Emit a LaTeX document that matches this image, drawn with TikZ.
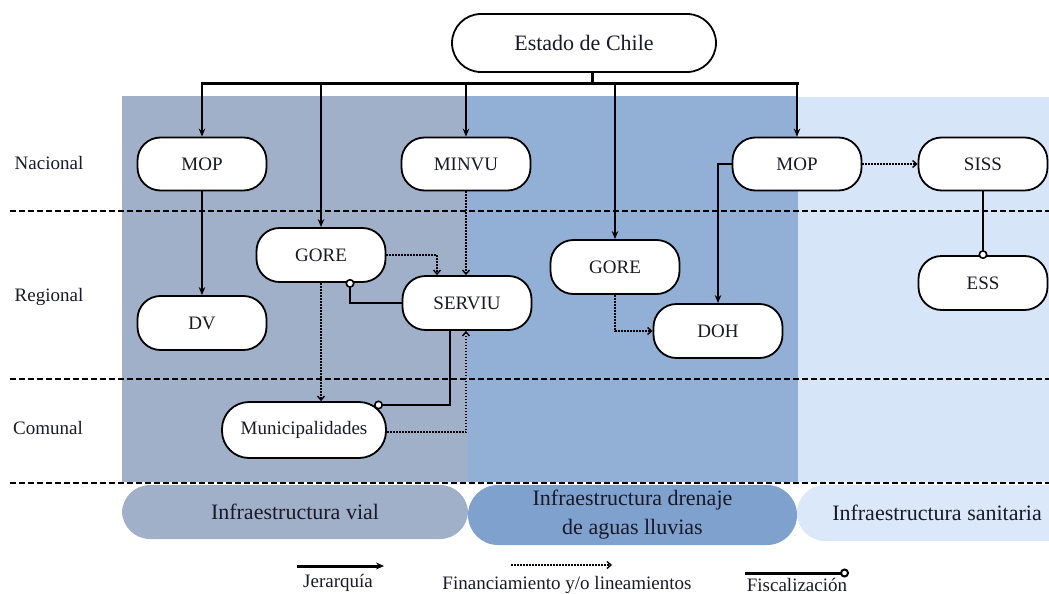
\documentclass[tikz,border=0pt]{standalone}
\usepackage{fontspec}
\setmainfont{Liberation Serif}
\newfontfamily\tnr{Liberation Serif}
\usetikzlibrary{arrows.meta}
\definecolor{vialc}{RGB}{161,176,201}
\definecolor{drenc}{RGB}{146,175,213}
\definecolor{sanc}{RGB}{214,230,248}
\definecolor{drenbox}{RGB}{127,161,206}
\definecolor{sanbox}{RGB}{218,232,249}
\definecolor{txt}{RGB}{25,25,40}
\begin{document}
\begin{tikzpicture}[x=1pt,y=-1pt,
 org/.style={draw=black, line width=1.8pt, fill=white, rounded corners=23pt,
   minimum width=129pt, minimum height=53pt, inner sep=0pt,
   font=\tnr\fontsize{19}{22}\selectfont, text=txt},
 hier/.style={line width=1.8pt, -{Stealth[length=8pt,width=6.5pt]}},
 fin/.style={line width=1.7pt, dash pattern=on 1.6pt off 1.4pt, -{Straight Barb[length=4pt,width=7pt,line width=1.4pt]}},
 fisc/.style={line width=1.8pt, -{Circle[open,fill=white,length=9pt,width=9pt,line width=1.6pt]}},
 lvl/.style={font=\tnr\fontsize{19}{22}\selectfont, text=txt},
 cat/.style={rounded corners=28pt, inner sep=0pt, align=center,
   font=\tnr\fontsize{22}{29}\selectfont, text=txt},
 sep/.style={line width=1.8pt, dash pattern=on 6pt off 3pt},
 leg/.style={font=\tnr\fontsize{19}{22}\selectfont, text=txt}
]
\useasboundingbox (0,0) rectangle (1049,594);
\clip (0,0) rectangle (1049,594);

% background panels
\fill[vialc] (122,96) rectangle (468,482);
\fill[drenc] (468,96) rectangle (798,482);
\fill[sanc] (798,97) rectangle (1049,482);

% category boxes
\node[cat, fill=vialc, minimum width=346pt, minimum height=54pt] (vial) at (295,512) {Infraestructura vial};
\node[cat, fill=drenbox, minimum width=329pt, minimum height=60pt, rounded corners=30pt] (dren) at (632.5,515) {Infraestructura drenaje\\de aguas lluvias};
\node[cat, fill=sanbox, minimum width=280pt, minimum height=56pt] (san) at (937,513) {Infraestructura sanitaria};

% level separators
\coordinate (s1a) at (10,211); \coordinate (s1b) at (1049,211);
\coordinate (s2a) at (10,379); \coordinate (s2b) at (1049,379);
\coordinate (s3a) at (10,483); \coordinate (s3b) at (1049,483);
\draw[sep] (s1a) -- (s1b);
\draw[sep] (s2a) -- (s2b);
\draw[sep] (s3a) -- (s3b);

% level labels
\node[lvl] (nac) at (49,163) {Nacional};
\node[lvl] (reg) at (49,297) {Regional};
\node[lvl] (com) at (48,428) {Comunal};

% nodes
\node[org, minimum width=264pt, minimum height=58pt, rounded corners=29pt,
      font=\tnr\fontsize{22}{26}\selectfont] (estado) at (584,43) {Estado de Chile};
\node[org] (mop1) at (202,164) {MOP};
\node[org] (minvu) at (466,164) {MINVU};
\node[org] (mop2) at (797,164) {MOP};
\node[org] (siss) at (983,164) {SISS};
\node[org, minimum height=54pt] (gore1) at (321,255) {GORE};
\node[org, minimum height=54pt] (serviu) at (467,303) {SERVIU};
\node[org, minimum height=54pt] (dv) at (202,323) {DV};
\node[org, minimum height=54pt] (gore2) at (615,267) {GORE};
\node[org, minimum height=54pt] (doh) at (718,331) {DOH};
\node[org, minimum height=54pt] (ess) at (983,283) {ESS};
\node[org, minimum width=164pt, minimum height=56pt, rounded corners=27pt] (muni) at (304,430) {Municipalidades};

% hierarchy bus
\coordinate (bj) at (592,83);
\coordinate (bl) at (202,83);
\coordinate (br) at (797,83);
\draw[line width=3pt] (estado.south -| bj) -- (bj);
\draw[line width=3pt] ([xshift=-1.5pt]bl) -- ([xshift=1.5pt]br);
\draw[hier] (mop1.north |- bl) -- (mop1.north);
\draw[hier] (gore1.north |- bl) -- (gore1.north);
\draw[hier] (minvu.north |- bl) -- (minvu.north);
\draw[hier] (gore2.north |- bl) -- (gore2.north);
\draw[hier] (mop2.north |- br) -- (mop2.north);

% relations
\draw[hier] (mop1) -- (dv);
\draw[fin] (minvu.south) -- (minvu.south |- serviu.north);
\draw[fin] (gore1.east) -| ([xshift=-30pt]serviu.north);
\draw[fin] (gore1.south) -- (gore1.south |- muni.north);
\draw[fisc] (serviu.west) -| ([xshift=29pt,yshift=4pt]gore1.south);
\coordinate (mfix) at (374,405);
\draw[fisc] ([xshift=-17pt]serviu.south) |- (mfix);
\draw[fin] ([yshift=-2pt]muni.east) -| ([xshift=-1pt]serviu.south);
\draw[fin] (gore2.south) |- (doh.west);
\draw[hier] (mop2.west) -| (doh.north);
\draw[fin] (mop2) -- (siss);
\draw[fisc] (siss) -- ([yshift=-4pt]ess.north);

% legend
\coordinate (j1) at (297,566); \coordinate (j2) at (384,566);
\draw[line width=3pt, -{Stealth[length=8pt,width=7pt]}] (j1) -- (j2);
\node[leg] (jl) at (338,583) {Jerarquía};
\coordinate (f1) at (511,565); \coordinate (f2) at (612,565);
\draw[fin] (f1) -- (f2);
\node[leg] (fl) at (567,585) {Financiamiento y/o lineamientos};
\coordinate (c1) at (745,573); \coordinate (c2) at (849,573);
\draw[line width=3pt, -{Circle[open,fill=white,length=9pt,width=9pt,line width=2pt]}] (c1) -- (c2);
\node[leg] (cl) at (797,585) {Fiscalización};
\end{tikzpicture}
\end{document}
